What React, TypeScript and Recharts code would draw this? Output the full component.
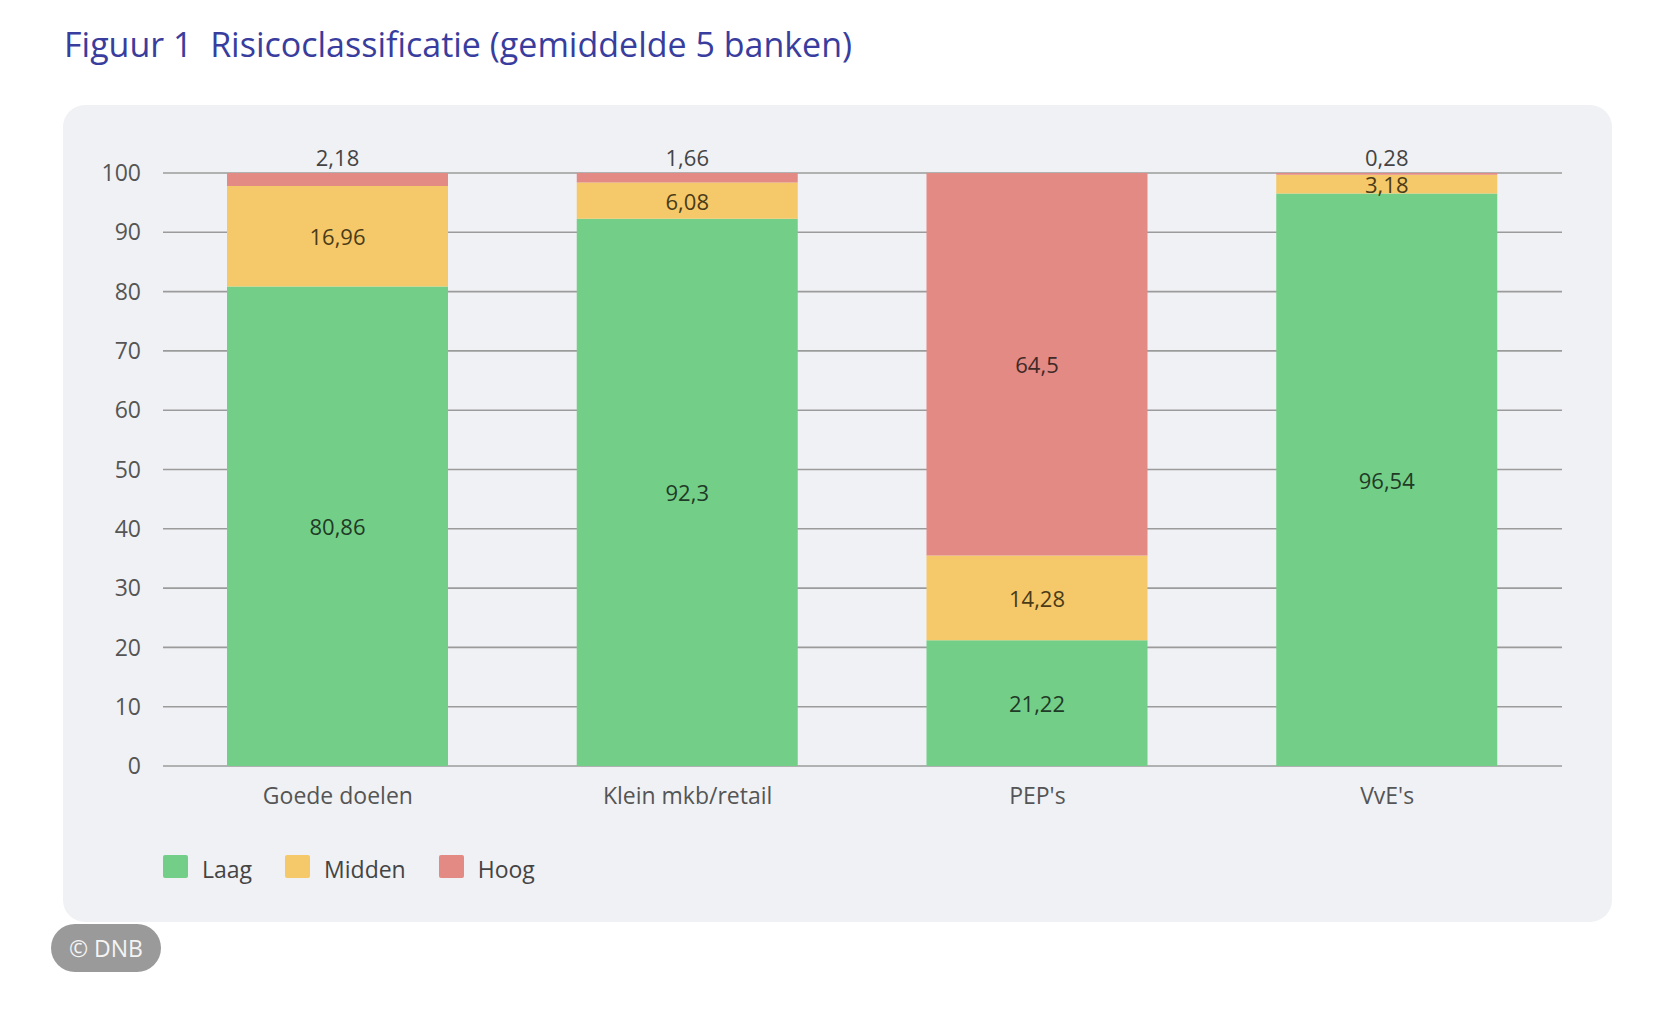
import React from 'react';
import { BarChart, Bar, XAxis, YAxis, CartesianGrid, LabelList, Legend } from 'recharts';

const categories = ['Goede doelen', 'Klein mkb/retail', "PEP's", "VvE's"];
const laag = [80.86, 92.3, 21.22, 96.54];
const midden = [16.96, 6.08, 14.28, 3.18];
const hoog = [2.18, 1.66, 64.5, 0.28];
const yTicks = [0, 10, 20, 30, 40, 50, 60, 70, 80, 90, 100];
const seriesOrder = ['Laag', 'Midden', 'Hoog'];

const data = categories.map((name, i) => ({ name, laag: laag[i], midden: midden[i], hoog: hoog[i] }));

const FONT = '"Open Sans", "Noto Sans", sans-serif';
const fmt = (v: number) => String(v).replace('.', ',');

const makeLabel = (insideColor: string, allowAbove: boolean) => (props: any) => {
  const { x, y, width, height, value } = props;
  const cx = Number(x) + Number(width) / 2;
  let cy = Number(y) + Number(height) / 2;
  let fill = insideColor;
  if (allowAbove && Math.abs(Number(height)) < 16) {
    cy = Number(y) - 16;
    fill = '#444';
  }
  return (
    <text x={cx} y={cy} textAnchor="middle" dominantBaseline="central" fontSize={22} fontFamily={FONT} fill={fill}>
      {fmt(Number(value))}
    </text>
  );
};

const LegendContent = (props: any) => {
  const payload = [...(props.payload || [])].sort(
    (a: any, b: any) => seriesOrder.indexOf(a.value) - seriesOrder.indexOf(b.value)
  );
  return (
    <div style={{ display: 'flex', alignItems: 'center', fontFamily: FONT }}>
      {payload.map((p: any) => (
        <div key={p.value} style={{ display: 'flex', alignItems: 'center', marginRight: 33 }}>
          <div style={{ width: 25, height: 23, background: p.color, borderRadius: 2 }} />
          <span style={{ marginLeft: 14, fontSize: 23, color: '#444', lineHeight: '23px', position: 'relative', top: 3 }}>{p.value}</span>
        </div>
      ))}
    </div>
  );
};

export default function App() {
  return (
    <div style={{ position: 'absolute', left: 0, top: 0, width: 1660, height: 1014, background: '#fff' }}>
      <div
        style={{
          position: 'absolute',
          left: 64,
          top: 27,
          fontFamily: FONT,
          fontSize: 34,
          lineHeight: 1,
          color: '#383d9e',
          whiteSpace: 'nowrap',
        }}
      >
        Figuur 1&nbsp; Risicoclassificatie (gemiddelde 5 banken)
      </div>
      <div
        style={{
          position: 'absolute',
          left: 63,
          top: 105,
          width: 1549,
          height: 817,
          background: '#f0f1f4',
          borderRadius: 22,
        }}
      >
        <BarChart
          width={1549}
          height={817}
          data={data}
          margin={{ top: 68, right: 50, bottom: 96, left: 0 }}
          barSize={221}
        >
          <CartesianGrid vertical={false} stroke="#9b9b9b" strokeWidth={1.6} />
          <XAxis
            dataKey="name"
            axisLine={false}
            tickLine={false}
            tickSize={20}
            tickMargin={2}
            height={60}
            tick={{ fontSize: 23, fill: '#555', fontFamily: FONT }}
          />
          <YAxis
            domain={[0, 100]}
            ticks={yTicks}
            allowDataOverflow
            axisLine={false}
            tickLine={false}
            tickSize={20}
            tickMargin={2}
            width={100}
            tick={{ fontSize: 23, fill: '#555', fontFamily: FONT }}
          />
          <Legend
            layout="horizontal"
            verticalAlign="middle"
            align="center"
            wrapperStyle={{ top: 750, left: 100, width: 800 }}
            content={<LegendContent />}
          />
          <Bar dataKey="laag" name="Laag" stackId="a" fill="#73cf88" isAnimationActive={false}>
            <LabelList dataKey="laag" content={makeLabel('#1f3a26', false)} />
          </Bar>
          <Bar dataKey="midden" name="Midden" stackId="a" fill="#f5c96a" isAnimationActive={false}>
            <LabelList dataKey="midden" content={makeLabel('#4a3b18', false)} />
          </Bar>
          <Bar dataKey="hoog" name="Hoog" stackId="a" fill="#e48a84" isAnimationActive={false}>
            <LabelList dataKey="hoog" content={makeLabel('#3f2a28', true)} />
          </Bar>
        </BarChart>
      </div>
      <div
        style={{
          position: 'absolute',
          left: 51,
          top: 924,
          width: 110,
          height: 48,
          borderRadius: 24,
          background: '#9a9a9a',
          color: '#f4f4f4',
          fontFamily: FONT,
          fontSize: 23,
          display: 'flex',
          alignItems: 'center',
          justifyContent: 'center',
        }}
      >
        © DNB
      </div>
    </div>
  );
}
